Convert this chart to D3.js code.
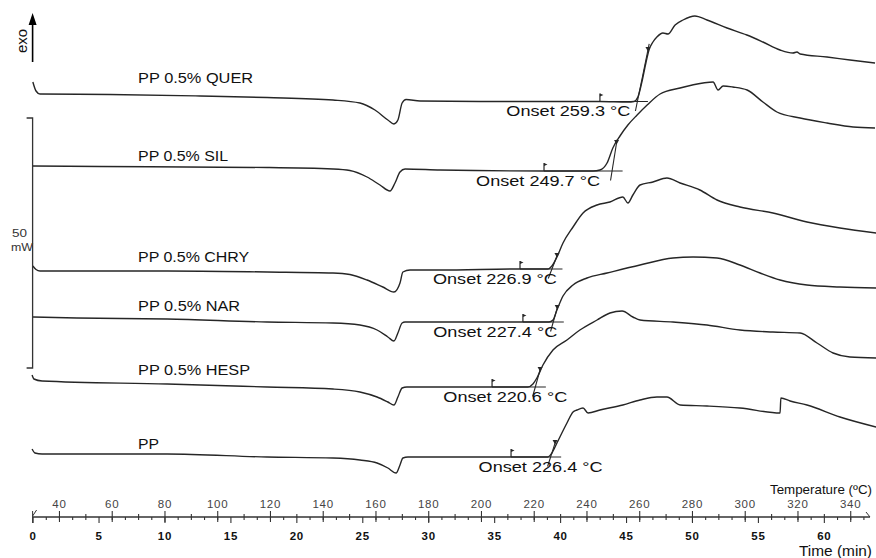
<!DOCTYPE html>
<html>
<head>
<meta charset="utf-8">
<script src="https://cdn.jsdelivr.net/npm/d3@7"></script>
<style>
  html, body { margin: 0; padding: 0; background: #fff; }
  svg { display: block; }
  text { font-family: "Liberation Sans", Arial, sans-serif; }
</style>
</head>
<body>
<svg id="chart" width="876" height="558"></svg>
<script>
// DSC heating runs: heat flow (mW, curves offset for display) vs temperature (°C)
const querCurve = [[30.1,86.8],[31.3,85.0],[32.8,84.4],[59.3,84.3],[93.5,84.0],[118.9,83.7],[143.9,83.2],[154.1,82.6],[159.8,81.2],[164.7,79.2],[167.0,78.4],[168.5,79.2],[170.1,82.6],[171.6,83.3],[176.9,83.0],[207.2,82.9],[245.1,82.9],[255.7,82.8],[258.0,82.9],[259.5,83.8],[261.0,86.8],[262.6,90.8],[263.7,93.2],[265.2,94.8],[266.7,95.8],[269.0,96.6],[270.9,96.4],[273.6,98.2],[276.6,99.2],[281.1,100.0],[285.7,99.2],[293.3,97.6],[300.8,96.2],[306.9,94.8],[313.4,93.2],[318.3,92.6],[319.8,92.8],[321.0,92.4],[331.2,91.8],[339.9,91.2],[349.4,90.6]];
const silCurve = [[30.1,70.0],[55.5,69.9],[118.9,69.7],[143.9,69.4],[150.3,69.1],[156.8,67.8],[161.7,66.2],[165.5,65.0],[167.4,66.6],[169.3,68.8],[171.2,69.4],[184.5,69.2],[223.9,69.0],[242.5,69.0],[245.1,69.2],[247.8,70.6],[250.0,73.6],[252.7,76.0],[255.7,78.2],[259.2,80.2],[263.0,82.2],[267.9,84.4],[275.5,85.6],[284.2,86.6],[288.0,86.8],[289.9,85.2],[291.8,86.0],[295.5,85.8],[300.9,85.2],[306.9,82.8],[312.2,80.8],[321.0,79.6],[331.2,78.6],[341.1,77.8],[349.4,77.6]];
const chryCurve = [[30.1,50.0],[31.3,49.3],[32.8,49.0],[81.0,49.0],[118.9,48.8],[143.9,48.6],[150.3,48.3],[156.8,47.2],[162.8,45.8],[167.0,44.8],[169.3,46.6],[170.4,48.8],[173.1,49.2],[184.5,49.2],[214.8,49.4],[225.4,49.4],[226.9,50.0],[228.8,51.8],[231.1,54.6],[234.9,57.8],[238.7,60.6],[244.0,62.2],[248.9,62.8],[253.8,63.8],[255.7,62.6],[257.6,64.2],[260.3,66.2],[265.2,66.8],[270.5,67.6],[275.5,66.6],[283.0,65.2],[289.5,63.2],[298.2,61.8],[310.7,60.6],[323.6,58.8],[336.1,57.6],[349.8,56.6]];
const narCurve = [[30.1,39.8],[46.8,39.6],[81.0,39.4],[118.9,38.8],[143.9,38.6],[154.1,38.2],[160.6,37.2],[164.7,35.8],[167.0,35.0],[168.5,36.6],[170.1,38.6],[171.2,38.8],[184.5,38.8],[225.8,38.8],[227.3,39.2],[228.8,41.2],[231.1,44.0],[234.9,46.2],[240.2,47.6],[247.8,48.6],[260.3,50.2],[272.8,51.6],[280.4,51.8],[289.5,51.6],[298.2,50.2],[305.8,48.6],[313.4,47.2],[323.6,46.2],[336.1,45.8],[349.8,45.6]];
const hespCurve = [[29.8,28.2],[30.5,27.4],[33.6,27.0],[81.0,26.4],[118.9,25.8],[143.9,25.4],[154.1,24.8],[160.6,23.8],[164.7,22.8],[167.0,22.2],[168.5,23.8],[170.1,25.6],[171.9,25.8],[184.5,25.8],[217.8,25.8],[219.7,26.4],[221.2,27.6],[223.5,30.2],[227.3,33.2],[232.6,35.2],[237.5,37.2],[244.0,39.2],[248.9,40.6],[253.5,41.0],[257.6,39.8],[260.3,39.2],[272.8,38.8],[285.7,38.2],[298.2,37.2],[310.7,36.8],[321.0,36.6],[327.4,34.6],[333.5,32.6],[339.9,31.8],[349.8,31.6]];
const ppCurve = [[29.8,13.4],[30.9,12.6],[33.6,12.4],[81.0,12.4],[118.9,11.8],[143.9,11.6],[154.1,11.2],[160.6,10.6],[164.7,9.6],[167.8,8.6],[169.3,10.2],[170.4,11.6],[172.3,11.8],[184.5,11.8],[225.4,11.8],[226.9,12.6],[228.8,14.6],[232.6,18.6],[234.9,20.8],[236.4,21.2],[238.7,21.6],[240.6,20.6],[245.1,21.2],[253.8,22.2],[260.3,23.2],[266.7,23.8],[270.5,23.8],[275.5,22.2],[285.7,22.0],[298.2,21.6],[313.4,20.6],[313.7,23.6],[317.2,23.0],[323.6,22.2],[336.1,19.8],[349.8,17.8]];

const sampleNames = ["PP 0.5% QUER", "PP 0.5% SIL", "PP 0.5% CHRY", "PP 0.5% NAR", "PP 0.5% HESP", "PP"];
const onsetTemps = [259.3, 249.7, 226.9, 227.4, 220.6, 226.4];
const baselineStartTemps = [245.1, 223.9, 214.8, 215.9, 204.2, 211.4];
const inflectionPoints = [[263.3, 93.2], [251.4, 74.6], [228.8, 52.0], [228.9, 41.6], [222.4, 29.2], [228.1, 14.6]];

const tempMajorTicks = d3.range(40, 341, 20);
const tempMinorTicks = d3.range(50, 341, 20);
const timeMajorTicks = d3.range(0, 61, 5);
const timeMinorTicks = d3.range(1, 64).filter(d => d % 5 !== 0);
const scaleBar = { low: 29.6, span: 50, label: "50", unit: "mW" };
const startTemp = 30, heatingRate = 5;   // °C, °C/min

// layout tweaks for the text blocks (pixels)
const nameLabelLift = [17.5, 11, 14, 12.5, 13.5, 10];
const nameLabelWidth = [115, 90, 111, 102, 112, 21];
const onsetLabelShift = [-7, -12, 5, 4, 32, 52];

const svg = d3.select("#chart");
const ink = "#262626";

const x = d3.scaleLinear().domain([30, 350]).range([32.6, 876.6]);
const y = d3.scaleLinear().domain([0, 100]).range([516, 16]);
const tScale = d3.scaleLinear().domain([0, 64])
  .range([x(startTemp), x(startTemp + 64 * heatingRate)]);

const series = [querCurve, silCurve, chryCurve, narCurve, hespCurve, ppCurve];

function valueAt(c, T) {
  const i = d3.bisector(d => d[0]).right(c, T);
  if (i <= 0) return c[0][1];
  if (i >= c.length) return c[c.length - 1][1];
  const a = c[i - 1], b = c[i];
  return a[1] + (b[1] - a[1]) * (T - a[0]) / (b[0] - a[0]);
}

const line = d3.line().x(d => x(d[0])).y(d => y(d[1])).curve(d3.curveMonotoneX);

// curves
svg.append("g").selectAll("path").data(series).join("path")
  .attr("d", line)
  .attr("fill", "none")
  .attr("stroke", ink)
  .attr("stroke-width", 1.4)
  .attr("stroke-linejoin", "round");

// sample names
const labelT = 70;
svg.append("g").selectAll("text").data(sampleNames).join("text")
  .attr("x", x(labelT))
  .attr("y", (d, i) => y(valueAt(series[i], labelT)) - nameLabelLift[i])
  .attr("dy", "0.35em")
  .attr("font-size", 15)
  .attr("fill", "#111")
  .attr("textLength", (d, i) => nameLabelWidth[i])
  .attr("lengthAdjust", "spacingAndGlyphs")
  .text(d => d);

// onset construction: extrapolated baseline, tangent, markers, label
const ann = svg.append("g");
series.forEach((c, i) => {
  const onset = onsetTemps[i];
  const t0 = baselineStartTemps[i];
  const base = valueAt(c, t0);
  const p1 = inflectionPoints[i];
  const g = ann.append("g");

  g.append("line")
    .attr("x1", x(t0)).attr("x2", x(onset + 4))
    .attr("y1", y(base)).attr("y2", y(base))
    .attr("stroke", ink).attr("stroke-width", 1.2);

  // flag at start of baseline fit
  const fx = x(t0), fy = y(base);
  g.append("line").attr("x1", fx).attr("x2", fx).attr("y1", fy).attr("y2", fy - 8)
    .attr("stroke", ink).attr("stroke-width", 1.2);
  g.append("path").attr("d", `M${fx},${fy - 8}L${fx + 3.5},${fy - 6.5}L${fx},${fy - 5}Z`)
    .attr("fill", ink);

  // tangent through onset and inflection point
  const dT = p1[0] - onset, dV = p1[1] - base;
  const s0 = -1.9 / dV, s1 = 1.12;
  g.append("line")
    .attr("x1", x(onset + s0 * dT)).attr("y1", y(base + s0 * dV))
    .attr("x2", x(onset + s1 * dT)).attr("y2", y(base + s1 * dV))
    .attr("stroke", ink).attr("stroke-width", 1.1);
  const mx = x(p1[0]), my = y(p1[1]);
  g.append("path").attr("d", `M${mx - 2.5},${my - 3}L${mx + 2.5},${my - 3}L${mx},${my + 1.5}Z`)
    .attr("fill", ink);

  g.append("text")
    .attr("x", x(onset) + onsetLabelShift[i])
    .attr("y", y(base) + 10)
    .attr("dy", "0.35em")
    .attr("text-anchor", "end")
    .attr("font-size", 14)
    .attr("fill", "#111")
    .attr("textLength", 124)
    .attr("lengthAdjust", "spacingAndGlyphs")
    .text(`Onset ${onset.toFixed(1)} °C`);
});

// exo arrow
const ax0 = x(startTemp);
svg.append("line").attr("x1", ax0).attr("x2", ax0).attr("y1", 62).attr("y2", 22)
  .attr("stroke", "#000").attr("stroke-width", 1.6);
svg.append("path").attr("d", `M${ax0},13L${ax0 + 4},25L${ax0 - 4},25Z`).attr("fill", "#000");
svg.append("text")
  .attr("transform", `translate(22,41) rotate(-90)`)
  .attr("text-anchor", "middle").attr("dy", "0.35em")
  .attr("font-size", 15).attr("fill", "#111")
  .text("exo");

// scale bar
const sbTop = y(scaleBar.low + scaleBar.span), sbBot = y(scaleBar.low);
svg.append("path")
  .attr("d", `M${ax0 - 6},${sbTop}H${ax0}V${sbBot}H${ax0 - 6}`)
  .attr("fill", "none").attr("stroke", "#333").attr("stroke-width", 1.3);
const sbMid = (sbTop + sbBot) / 2;
svg.append("text").attr("x", 12).attr("y", sbMid - 10).attr("dy", "0.35em")
  .attr("font-family", "DejaVu Sans, sans-serif")
  .attr("font-size", 10).attr("fill", "#333")
  .attr("textLength", 15).attr("lengthAdjust", "spacingAndGlyphs")
  .text(scaleBar.label);
svg.append("text").attr("x", 11).attr("y", sbMid + 4).attr("dy", "0.35em")
  .attr("font-family", "DejaVu Sans, sans-serif")
  .attr("font-size", 10).attr("fill", "#333")
  .attr("textLength", 22).attr("lengthAdjust", "spacingAndGlyphs")
  .text(scaleBar.unit);

// temperature / time axis
const axisY = 517;
const gAx = svg.append("g").attr("transform", `translate(0,${axisY})`);

const tMajor = gAx.append("g").call(d3.axisTop(x).tickValues(tempMajorTicks).tickSize(6).tickPadding(3).tickFormat(d3.format("d")));
tMajor.selectAll("text").attr("font-family", "DejaVu Sans, sans-serif").attr("font-size", 11.5)
  .attr("fill", "#444").attr("letter-spacing", 0.8);
gAx.append("g").call(d3.axisBottom(x).tickValues(tempMajorTicks).tickSize(5).tickFormat(""));
gAx.append("g").call(d3.axisTop(x).tickValues(tempMinorTicks).tickSize(3).tickFormat(""));

const tmMajor = gAx.append("g").call(d3.axisBottom(tScale).tickValues(timeMajorTicks).tickSize(6).tickPadding(9).tickFormat(d3.format("d")));
tmMajor.selectAll("text").attr("font-family", "DejaVu Sans, sans-serif").attr("font-size", 11.5)
  .attr("font-weight", "bold").attr("fill", "#111").attr("letter-spacing", 0.8);
gAx.append("g").call(d3.axisBottom(tScale).tickValues(timeMinorTicks).tickSize(3).tickFormat(""));

gAx.selectAll(".domain").remove();
gAx.selectAll(".tick line").attr("stroke", "#333").attr("stroke-width", 1.1);

gAx.append("line").attr("x1", x(startTemp)).attr("x2", x(347.5)).attr("y1", 0).attr("y2", 0)
  .attr("stroke", "#333").attr("stroke-width", 1.3);
gAx.append("path").attr("d", `M${x(startTemp)},-6V6M${x(startTemp)},-1L${x(startTemp) + 4},-7`)
  .attr("fill", "none").attr("stroke", "#333").attr("stroke-width", 1);
gAx.append("path").attr("d", `M${x(347.5) - 4},-5L${x(347.5)},0`)
  .attr("fill", "none").attr("stroke", "#333").attr("stroke-width", 1);

svg.append("text").attr("x", 872).attr("y", 489).attr("dy", "0.35em")
  .attr("text-anchor", "end").attr("font-size", 13).attr("fill", "#111")
  .attr("textLength", 102).attr("lengthAdjust", "spacingAndGlyphs")
  .text("Temperature (ºC)");
svg.append("text").attr("x", 872).attr("y", 551).attr("dy", "0.35em")
  .attr("text-anchor", "end").attr("font-size", 14.5).attr("fill", "#111")
  .attr("textLength", 73).attr("lengthAdjust", "spacingAndGlyphs")
  .text("Time (min)");
</script>
</body>
</html>
